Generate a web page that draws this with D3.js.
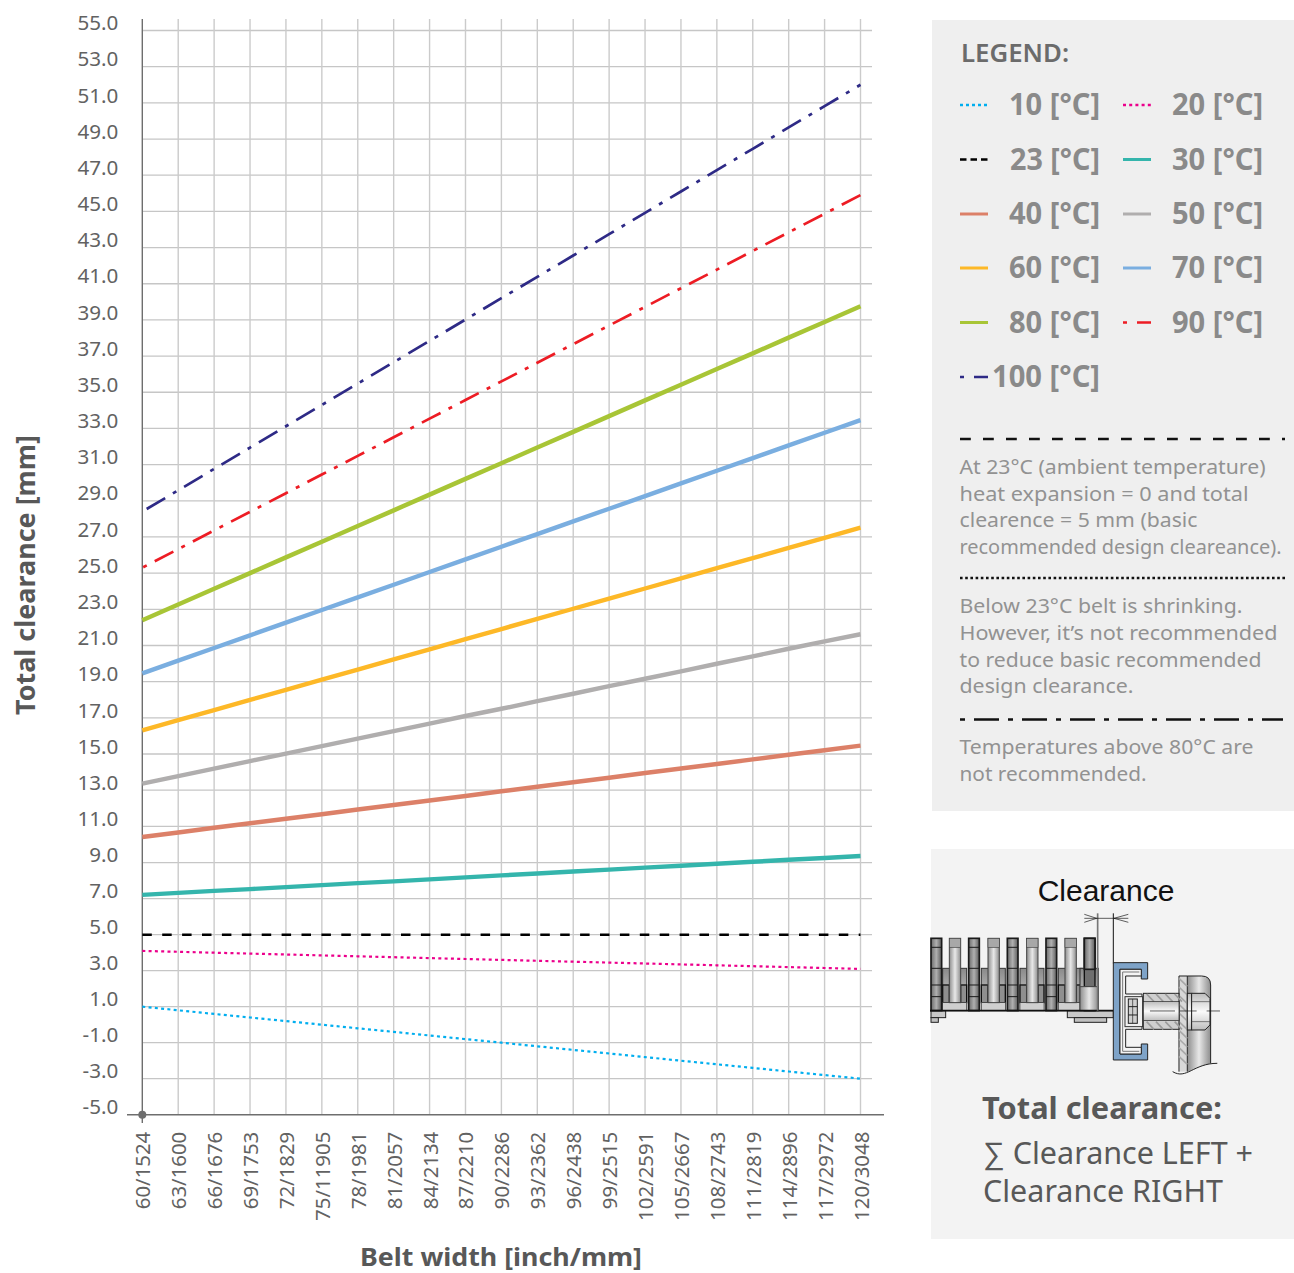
<!DOCTYPE html>
<html><head><meta charset="utf-8">
<script src="https://cdn.jsdelivr.net/npm/d3@7"></script>
<style>html,body{margin:0;padding:0;background:#fff}svg{display:block}text{font-family:"Noto Sans",sans-serif}</style>
</head><body><svg id="c" width="1294" height="1273"></svg>
<script>
const categories=["60/1524","63/1600","66/1676","69/1753","72/1829","75/11905","78/1981","81/2057","84/2134","87/2210","90/2286","93/2362","96/2438","99/2515","102/2591","105/2667","108/2743","111/2819","114/2896","117/2972","120/3048"];
const yTicks=[55,53,51,49,47,45,43,41,39,37,35,33,31,29,27,25,23,21,19,17,15,13,11,9,7,5,3,1,-1,-3,-5];
const temps=[10,20,23,30,40,50,60,70,80,90,100];
const t10=[1.0,0.8,0.6,0.4,0.2,0,-0.2,-0.4,-0.6,-0.8,-1.0,-1.2,-1.4,-1.6,-1.8,-2.0,-2.2,-2.4,-2.6,-2.8,-3.0];
const t20=[4.1,4.05,4.0,3.95,3.9,3.85,3.8,3.75,3.7,3.65,3.6,3.55,3.5,3.45,3.4,3.35,3.3,3.25,3.2,3.15,3.1];
const t23=[5,5,5,5,5,5,5,5,5,5,5,5,5,5,5,5,5,5,5,5,5];
const t30=[7.21,7.32,7.43,7.53,7.64,7.75,7.86,7.96,8.07,8.18,8.29,8.39,8.50,8.61,8.72,8.82,8.93,9.04,9.15,9.25,9.36];
const t40=[10.41,10.66,10.92,11.17,11.42,11.67,11.93,12.18,12.43,12.68,12.94,13.19,13.44,13.69,13.95,14.20,14.45,14.70,14.96,15.21,15.46];
const t50=[13.36,13.78,14.19,14.61,15.02,15.44,15.85,16.27,16.68,17.10,17.5,17.92,18.33,18.75,19.16,19.57,19.99,20.40,20.82,21.23,21.62];
const t60=[16.31,16.87,17.43,17.99,18.55,19.11,19.67,20.23,20.79,21.35,21.91,22.47,23.03,23.59,24.15,24.71,25.27,25.83,26.39,26.95,27.51];
const t70=[19.46,20.16,20.86,21.56,22.26,22.96,23.66,24.36,25.06,25.76,26.46,27.16,27.86,28.56,29.26,29.96,30.66,31.36,32.06,32.76,33.46];
const t80=[22.4,23.27,24.14,25.0,25.87,26.74,27.61,28.47,29.34,30.21,31.08,31.94,32.81,33.68,34.55,35.41,36.28,37.15,38.02,38.88,39.75];
const t90=[25.3,26.33,27.36,28.39,29.42,30.45,31.48,32.51,33.54,34.57,35.6,36.63,37.66,38.69,39.72,40.75,41.78,42.81,43.84,44.87,45.9];
const t100=[28.4,29.58,30.76,31.94,33.12,34.3,35.48,36.66,37.84,39.02,40.2,41.38,42.56,43.74,44.92,46.1,47.28,48.46,49.64,50.82,52];
const seriesValues=[t10,t20,t23,t30,t40,t50,t60,t70,t80,t90,t100];
const colors=["#00aeef","#ec008c","#000000","#34b5ac","#dc8068","#b0aeae","#fdb827","#7aaee0","#a8c536","#ed1c24","#2e2a86"];
const widths=[2.2,2.2,2.6,4.4,4.4,4.4,4.4,4.4,4.4,2.7,2.7];
const dashes=["3 3.3","3 3.3","9.5 10.4",null,null,null,null,null,null,"21 9 4 9","21.5 9 4 9"];
const dashOffsets=[0,0,0,0,0,0,0,0,0,29,38.4];
const legendDashes=["3 3","3 3.2","6.5 4",null,null,null,null,null,null,"4 10 14","4 10 14"];

const svg=d3.select("#c");
const x=d3.scalePoint().domain(categories).range([142.3,860.5]);
const y=d3.scaleLinear().domain([-5,7,55]).range([1114.7,898.7,30.5]);
const TXT="#585858";

// grid
const g=svg.append("g");
g.selectAll("line.h").data(yTicks.filter(d=>d>-5)).join("line").attr("class","h").attr("x1",142).attr("x2",872).attr("y1",d=>y(d)).attr("y2",d=>y(d)).attr("stroke","#c6c6c6").attr("stroke-width",1.3);
g.selectAll("line.v").data(categories.slice(1)).join("line").attr("class","v").attr("x1",d=>x(d)).attr("x2",d=>x(d)).attr("y1",19).attr("y2",1114.7).attr("stroke","#cbcbcb").attr("stroke-width",1.4);

// axes
const ay=svg.append("g").attr("transform","translate(142.3,0)").call(d3.axisLeft(y).tickValues(yTicks).tickSize(0).tickFormat(d=>d.toFixed(1)));
ay.select(".domain").remove();
ay.selectAll("text").attr("x",-24).attr("y",-0.8).attr("dy",0).attr("font-size",20.6).attr("font-weight",400).attr("fill","#626262");
const ax=svg.append("g").attr("transform","translate(0,1114.7)").call(d3.axisBottom(x).tickSize(0));
ax.select(".domain").remove();
ax.selectAll("text").attr("transform","rotate(-90)").attr("text-anchor","end").attr("x",-17).attr("y",0).attr("dy","7.5").attr("font-size",20.4).attr("font-weight",400).attr("fill","#626262");
svg.append("line").attr("x1",142.3).attr("x2",142.3).attr("y1",19).attr("y2",1123).attr("stroke","#6e6e6e").attr("stroke-width",1.4);
svg.append("line").attr("x1",127).attr("x2",884).attr("y1",1114.7).attr("y2",1114.7).attr("stroke","#6e6e6e").attr("stroke-width",1.4);
svg.append("circle").attr("cx",142.3).attr("cy",1114.7).attr("r",4).attr("fill","#6e6e6e");

// titles
svg.append("text").attr("transform","translate(35,575) rotate(-90)").attr("text-anchor","middle").attr("font-size",26).attr("font-weight",700).attr("fill",TXT).attr("textLength",280).attr("lengthAdjust","spacingAndGlyphs").text("Total clearance [mm]");
svg.append("text").attr("x",501).attr("y",1265.5).attr("text-anchor","middle").attr("font-size",25).attr("font-weight",700).attr("fill",TXT).attr("textLength",282).attr("lengthAdjust","spacingAndGlyphs").text("Belt width [inch/mm]");

// series
const line=d3.line().x((d,i)=>x(categories[i])).y(d=>y(d));
svg.selectAll("path.s").data(seriesValues).join("path").attr("class","s").attr("fill","none").attr("d",line)
 .attr("stroke",(d,i)=>colors[i]).attr("stroke-width",(d,i)=>widths[i]).attr("stroke-dasharray",(d,i)=>dashes[i]).attr("stroke-dashoffset",(d,i)=>dashOffsets[i]);

// legend panel
svg.append("rect").attr("x",932).attr("y",20).attr("width",362).attr("height",791).attr("fill","#efefef");
svg.append("text").attr("x",961).attr("y",62).attr("font-size",25).attr("font-weight",600).attr("fill","#6b6b6b").attr("textLength",108).attr("lengthAdjust","spacingAndGlyphs").text("LEGEND:");
const rowYs=[105,159.5,214,268,322.5,377];
temps.forEach((t,i)=>{
  const col=i%2,row=Math.floor(i/2);
  const ly=rowYs[row];
  const lx=col?1123:960;
  svg.append("line").attr("x1",lx).attr("x2",lx+28).attr("y1",ly).attr("y2",ly).attr("stroke",colors[i]).attr("stroke-width",i>=3&&i<=8?3:2.6).attr("stroke-dasharray",legendDashes[i]);
  const label=t+" [°C]";
  const right=col?1263:1100;
  const w=t===100?108:(t===23?90:91);
  svg.append("text").attr("x",right).attr("y",ly+10).attr("text-anchor","end").attr("font-size",31).attr("font-weight",700).attr("fill","#8a8a8a").attr("textLength",w).attr("lengthAdjust","spacingAndGlyphs").text(label);
});
// notes
svg.append("line").attr("x1",960).attr("x2",1285).attr("y1",439).attr("y2",439).attr("stroke","#111").attr("stroke-width",2.6).attr("stroke-dasharray","10.8 12.2");
svg.append("line").attr("x1",960).attr("x2",1285).attr("y1",578).attr("y2",578).attr("stroke","#111").attr("stroke-width",2.6).attr("stroke-dasharray","2.6 2.6");
svg.append("line").attr("x1",960).attr("x2",1283).attr("y1",719.5).attr("y2",719.5).attr("stroke","#111").attr("stroke-width",2.6).attr("stroke-dasharray","5 9 25 9");
const notes=[
 ["At 23°C (ambient temperature)",474,306],["heat expansion = 0 and total",501,289],["clearence = 5 mm (basic",527,238],["recommended design cleareance).",554,322],
 ["Below 23°C belt is shrinking.",613,283],["However, it’s not recommended",640,318],["to reduce basic recommended",667,302],["design clearance.",693,174],
 ["Temperatures above 80°C are",754,294],["not recommended.",781,187]];
notes.forEach(n=>svg.append("text").attr("x",959.5).attr("y",n[1]).attr("font-size",20).attr("font-weight",400).attr("fill","#929292").attr("textLength",n[2]).attr("lengthAdjust","spacingAndGlyphs").text(n[0]));

// illustration panel
svg.append("rect").attr("x",931).attr("y",849).attr("width",363).attr("height",390).attr("fill","#f3f3f3");
svg.append("text").attr("x",1106).attr("y",901).attr("text-anchor","middle").attr("font-size",30).style("font-family","'Liberation Sans',sans-serif").attr("fill","#111").text("Clearance");
svg.append("text").attr("x",982).attr("y",1119).attr("font-size",31).attr("font-weight",700).attr("fill",TXT).attr("textLength",240).attr("lengthAdjust","spacingAndGlyphs").text("Total clearance:");
svg.append("text").attr("x",983).attr("y",1164).attr("font-size",31).attr("font-weight",400).attr("fill",TXT).attr("textLength",270).attr("lengthAdjust","spacingAndGlyphs").text("∑ Clearance LEFT +");
svg.append("text").attr("x",983).attr("y",1202).attr("font-size",31).attr("font-weight",400).attr("fill",TXT).attr("textLength",240).attr("lengthAdjust","spacingAndGlyphs").text("Clearance RIGHT");

// drawing
const defs=svg.append("defs");
function grad(id,stops){const lg=defs.append("linearGradient").attr("id",id);stops.forEach(s=>lg.append("stop").attr("offset",s[0]).attr("stop-color",s[1]));}
grad("gd",[[0,"#6a6a6a"],[0.5,"#b0b0b0"],[1,"#5c5c5c"]]);
grad("gl",[[0,"#8d8d8d"],[0.5,"#e8e8e8"],[1,"#8d8d8d"]]);
const lgd=defs.append("linearGradient").attr("id","gb").attr("x2",0).attr("y2",1);
[[0,"#8a8a8a"],[1,"#d8d8d8"]].forEach(s=>lgd.append("stop").attr("offset",s[0]).attr("stop-color",s[1]));
const lgv=defs.append("linearGradient").attr("id","gv").attr("x2",0).attr("y2",1);
[[0,"#bdbdbd"],[0.5,"#fafafa"],[1,"#bdbdbd"]].forEach(s=>lgv.append("stop").attr("offset",s[0]).attr("stop-color",s[1]));
const d=svg.append("g").attr("transform","translate(930,850) scale(0.3333)");
const R=(a,b,c,e,f,s,sw)=>d.append("rect").attr("x",a).attr("y",b).attr("width",c-a).attr("height",e-b).attr("fill",f||"none").attr("stroke",s===undefined?"#222":s).attr("stroke-width",sw||3);
const P=(p,f,s,sw)=>d.append("path").attr("d",p).attr("fill",f||"none").attr("stroke",s===undefined?"#222":s).attr("stroke-width",sw||3);
// lower plates
R(3,482,47,503,"#c9c9c9"); R(3,503,25,517,"#c0c0c0");
R(412,482,550,503,"#c9c9c9"); R(433,503,530,517,"#c0c0c0");
// light links
[58,174,290,405].forEach(v=>{
  R(v-20,355,v+52,482,"url(#gb)","#333",3);
  R(v-20,405,v,458,"#8f8f8f","#111",4);
  R(v+34,405,v+52,458,"#8f8f8f","#111",4);
  R(v-20,458,v+52,482,"#cfcfcf","#444",2);
  R(v,265,v+34,458,"url(#gl)","#444",3);
  R(v,265,v+34,292,"#a8a8a8","#444",2);
});
// dark links
[3,116,232,348,463].forEach(v=>{
  R(v,265,v+32,482,"url(#gd)","#1a1a1a",5);
  [292,355,405,440].forEach(yy=>P(`M${v} ${yy}H${v+32}`,null,"#1a1a1a",3));
});
R(450,355,505,482,"url(#gb)","#333",3);
R(463,358,495,410,"#6f6f6f","#111",4);
R(450,410,505,482,"url(#gl)","#444",3);
R(463,265,495,358,"url(#gd)","#1a1a1a",5);
P("M0 482H550",null,"#111",5);
// dimension
P("M503 190V482",null,"#777",5);
P("M550 190V340",null,"#111",3);
P("M463 205H595",null,"#111",2);
P("M463 193L500 205L463 217M595 193L552 205L595 217",null,"#111",2);
// frame
P("M772 378H815Q842 378 842 405V640L772 665Z","url(#gl)","none");
P("M772 378H815Q842 378 842 405V640",null,"#222",3);
P("M728 665C770 690 790 640 862 640",null,"#222",3);
R(747,378,772,665,"#d8d8d8",null,1);
P("M747 378V665M772 378V665M747 378H772",null,"#222",3);
for(let v=385;v<640;v+=26)P(`M747 ${v}L772 ${v+24}`,null,"#a8a8a8",5);
// channel
P("M550 338H653V387H634V358H570V612H634V582H653V630H550Z","#7ea3c8","#222",3);
P("M570 358H634V378H587V432H636V538H587V592H634V612H570Z","#f4f4f4","#222",3);
P("M578 366H628M578 366V604H628",null,"#777",3);
R(585,440,638,530,"#f0f0f0","#333",3);
R(595,447,622,520,"#d0d0d0","#222",3);
[470,495].forEach(v=>P(`M595 ${v}H622`,null,"#222",3));
P("M608 447V520",null,"#222",2);
// bolt
R(640,430,747,538,"#cfcfcf","#222",3);
for(let v=650;v<735;v+=28){P(`M${v} 432L${v+22} 455M${v} 515L${v+22} 538`,null,"#9c9c9c",5);}
R(640,455,747,512,"url(#gv)","#222",2);
R(772,430,785,540,"url(#gv)","#222",3);
P("M785 430H825L840 445V525L825 540H785Z","url(#gv)","#222",3);
P("M785 455H840M785 515H840",null,"#444",2);
P("M660 483H735M750 483H800M830 483H870",null,"#111",2);
</script></body></html>
